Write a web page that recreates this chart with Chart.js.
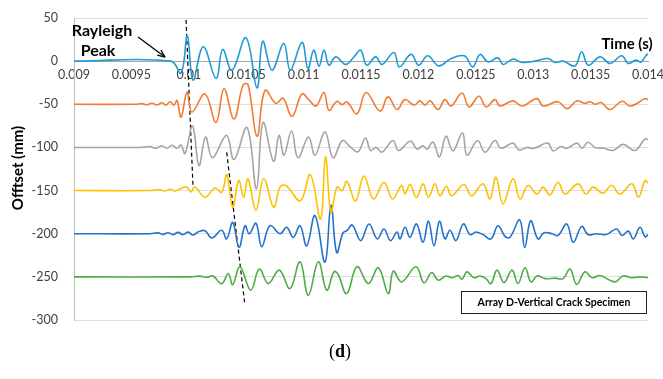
<!DOCTYPE html>
<html>
<head>
<meta charset="utf-8">
<script src="https://cdn.jsdelivr.net/npm/chart.js@4"></script>
<style>
  html, body { margin: 0; padding: 0; background: #fff; }
  #wrap { width: 663px; height: 379px; }
</style>
</head>
<body>
<div id="wrap"><canvas id="waveChart" width="663" height="379"></canvas></div>
<script>
// time (s) and amplitude about each trace's own offset
const offsets = [0, -50, -100, -150, -200, -250];
const colors = ["#1E9CDA", "#F37B2F", "#A5A5A5", "#FFC000", "#2472CC", "#4EAC45"];

const trace0 = [[0.009,0],[0.009845,0],[0.009932,-14],[0.009987,29.5],[0.010037,-22],[0.010126,16.7],[0.010237,-20],[0.010295,13.6],[0.010376,-10.5],[0.010498,27],[0.010594,-31],[0.010644,23],[0.010725,-10.5],[0.010827,20.6],[0.010884,-10.5],[0.010986,21.8],[0.011038,-8.5],[0.011088,12.8],[0.011134,-6],[0.011178,12.8],[0.011221,-4.7],[0.011280,5],[0.011367,-3.8],[0.011439,5],[0.011497,12.8],[0.011550,-4.7],[0.011628,5],[0.011683,-3.8],[0.011787,10],[0.011834,-6.6],[0.011936,7.8],[0.012003,-4.7],[0.012081,6.2],[0.012177,-5.5],[0.012275,2.3],[0.012400,6.2],[0.012473,-6.6],[0.012537,7.8],[0.012606,-0.8],[0.012693,3.8],[0.012737,-3.8],[0.012824,2.3],[0.012902,-1.5],[0.013015,0],[0.013129,3.1],[0.013190,-1.5],[0.013260,0],[0.013364,-5.5],[0.013422,10.8],[0.013480,-4.7],[0.013582,5],[0.013669,-2.7],[0.013771,6.2],[0.013828,-2.7],[0.013895,1.2],[0.013939,-1],[0.013991,8],[0.014,7]];

const trace1 = [[0.009,0],[0.0095314,0],[0.0095923,0.8],[0.0096359,-0.5],[0.0096794,1.2],[0.0097230,-0.8],[0.0097666,1.8],[0.0098014,-1],[0.0098362,3],[0.0098711,-1],[0.0098972,4.5],[0.0099321,-15],[0.0099843,14],[0.0100279,-9],[0.0101411,12],[0.0102369,-21],[0.0103066,18],[0.0103937,-17],[0.0104721,22],[0.0105157,23],[0.0105941,-37],[0.0106638,16],[0.0107596,1],[0.0108206,7],[0.0108990,-14],[0.0109861,12],[0.0110470,5],[0.0111080,-2],[0.0111777,13.6],[0.0112213,-7],[0.0112909,3.5],[0.0113345,-0.4],[0.0113780,2.7],[0.0114652,-11],[0.0115436,13.6],[0.0116655,-8],[0.0117352,8.6],[0.0118136,-6],[0.0118833,5.4],[0.0119617,-1],[0.0120139,4],[0.0120575,-1],[0.0121010,4],[0.0121707,-6],[0.0122317,5.4],[0.0122840,-2],[0.0123798,13],[0.0124408,-3],[0.0125279,9.3],[0.0125888,-3],[0.0126672,5.4],[0.0127108,-2],[0.0128240,4],[0.0129024,-2],[0.0130331,6.6],[0.0130854,-2],[0.0132160,3],[0.0132944,-5],[0.0133815,4],[0.0134512,1],[0.0134948,3],[0.0135383,0],[0.0135906,2],[0.0136690,-6],[0.0137735,3.5],[0.0138432,-2],[0.0139042,1],[0.0139739,6.6],[0.014,5]];

const trace2 = [[0.009,0],[0.0095749,0],[0.0096620,1],[0.0097143,-1],[0.0097666,2],[0.0098101,-1],[0.0098537,2.5],[0.0098972,-1],[0.0099321,3],[0.0099669,-7],[0.0100322,25],[0.0100889,-21],[0.0101455,12],[0.0102065,-12],[0.0103284,14],[0.0103937,-14],[0.0105070,23],[0.0105897,-48],[0.0106463,29],[0.0107378,-16],[0.0107857,14],[0.0108293,-9],[0.0108946,19],[0.0109512,-12],[0.0110427,12],[0.0110993,-9],[0.0111864,18],[0.0112561,-12],[0.0113389,8],[0.0114042,1],[0.0114739,-5],[0.0115392,11],[0.0115828,-3.5],[0.0116307,0],[0.0116829,-5.5],[0.0117787,8],[0.0118267,-3.5],[0.0119312,7.5],[0.0119878,-2],[0.0120401,2],[0.0120749,-2],[0.0121272,6],[0.0121838,-11],[0.0122404,13],[0.0123014,-4],[0.0123841,17],[0.0124233,-9],[0.0125148,8],[0.0125801,-5.5],[0.0126672,8],[0.0127195,-1],[0.0128240,5],[0.0128763,-3],[0.0129460,0],[0.0130070,-1],[0.0131289,5],[0.0131725,-4],[0.0132422,1],[0.0132944,-1],[0.0133815,5],[0.0134251,-1],[0.0134774,6],[0.0135383,0],[0.0136167,-1],[0.0136951,-3.5],[0.0137822,3.5],[0.0138868,-3.5],[0.0139739,10],[0.014,9]];

const trace3 = [[0.009,0],[0.0096620,0],[0.0097491,1],[0.0097927,-0.5],[0.0098362,1.5],[0.0098798,-0.5],[0.0099233,2],[0.0099817,4],[0.0100192,-1.5],[0.0100540,4],[0.0101411,-7.8],[0.0102282,3],[0.0102866,-2],[0.0103301,18.3],[0.0103824,-19.4],[0.0104347,11.7],[0.0104782,-7.8],[0.0105157,13.6],[0.0105854,-23],[0.0106524,13.6],[0.0107395,-19.4],[0.0107944,4],[0.0108467,5.8],[0.0109713,-11.7],[0.0110583,18.3],[0.0111472,-33],[0.0111908,39],[0.0112387,-25],[0.0112909,4],[0.0113345,0],[0.0113780,10.5],[0.0114521,-12],[0.0115261,16.7],[0.0116089,-9.7],[0.0117003,9.7],[0.0117744,-9.7],[0.0118528,5.8],[0.0118833,-4],[0.0119268,7],[0.0119834,-8],[0.0120401,7.8],[0.0120880,-7.8],[0.0121446,7.8],[0.0121882,-6],[0.0122448,5],[0.0122883,-6],[0.0123972,7],[0.0124625,-6],[0.0125627,7.8],[0.0126237,-9.7],[0.0126760,15.5],[0.0127369,-15.5],[0.0128240,13.6],[0.0128850,-9.7],[0.0129547,5.8],[0.0130331,-4],[0.0130854,4],[0.0131463,-5],[0.0132160,9.7],[0.0132770,-4],[0.0133902,7.8],[0.0134599,-4],[0.0135209,4],[0.0136080,-3],[0.0136821,5.8],[0.0137561,-4],[0.0138606,7.8],[0.0139172,-7.8],[0.0139739,11.7],[0.014,9]];

const trace4 = [[0.009,0],[0.0096620,0],[0.0097317,1],[0.0097753,-0.8],[0.0098188,1.2],[0.0098624,-1],[0.0099059,1.5],[0.0099495,-1],[0.0099930,1.8],[0.0100366,-1.5],[0.0100801,2],[0.0101411,3.5],[0.0101995,-5],[0.0102866,4],[0.0103301,-6],[0.0103824,13],[0.0104373,-16],[0.0104895,9.3],[0.0105270,0],[0.0105854,12],[0.0106350,-15],[0.0107073,9.3],[0.0107944,0],[0.0108528,7.4],[0.0109103,-4.3],[0.0109686,9.3],[0.0110270,-14],[0.0110993,21],[0.0111864,-33],[0.0112387,33],[0.0112883,-21.8],[0.0113432,1],[0.0113780,3.5],[0.0114242,10],[0.0114974,-8],[0.0115697,11.3],[0.0116420,-6],[0.0117003,5.4],[0.0117570,-8],[0.0118136,2],[0.0118397,-6],[0.0118833,7.4],[0.0119268,-4],[0.0119834,11.3],[0.0120401,-10],[0.0120880,14.4],[0.0121359,-14],[0.0121838,14.4],[0.0122317,-6],[0.0122753,4],[0.0123275,-8],[0.0123911,11.3],[0.0124495,-1],[0.0125017,2],[0.0125627,-1],[0.0126324,-6],[0.0126933,9.3],[0.0127544,-3],[0.0127979,-4],[0.0128824,16],[0.0129260,-16],[0.0129782,15],[0.0130418,-6],[0.0130941,1],[0.0131638,0],[0.0132160,-2],[0.0132918,11.3],[0.0133493,-10],[0.0134224,8.5],[0.0134774,-1],[0.0135470,0],[0.0136341,-1],[0.0137274,5.4],[0.0137735,-2],[0.0138284,3],[0.0138720,-6],[0.0139303,7.4],[0.0139739,-3.6],[0.014,-1]];

const trace5 = [[0.009,0],[0.0100105,0],[0.0100976,0.8],[0.0101585,-0.5],[0.0102108,1],[0.0102866,-8],[0.0103441,3.9],[0.0103824,-9],[0.0104460,11.7],[0.0105392,-15.5],[0.0106141,9],[0.0106925,-7.8],[0.0107883,7.8],[0.0108815,-13.6],[0.0109686,17.5],[0.0110409,-21.4],[0.0111281,17.5],[0.0112012,-15.5],[0.0112648,6],[0.0112996,3],[0.0113754,-19.4],[0.0114652,11.7],[0.0115636,-7.8],[0.0116507,10.5],[0.0117378,-19.4],[0.0117814,6.6],[0.0118545,-5.8],[0.0119791,11.7],[0.0120488,-7],[0.0121159,5],[0.0121733,-3.9],[0.0122404,1],[0.0122927,-1],[0.0123449,1.5],[0.0123798,-2.7],[0.0124233,5.8],[0.0124843,-1],[0.0125366,1],[0.0125888,-2],[0.0126324,-7.8],[0.0126847,7.8],[0.0127456,-6.6],[0.0128153,7.8],[0.0128676,-7.8],[0.0129286,10.5],[0.0129808,-5.8],[0.0130331,1],[0.0131028,-2],[0.0131899,-1.5],[0.0132596,-2],[0.0133206,9],[0.0133789,-8.7],[0.0134512,5.8],[0.0135122,-1],[0.0135819,1.5],[0.0137125,-5.8],[0.0137822,1],[0.0138606,-1],[0.0139303,0],[0.014,-1]];

const traces = [trace0, trace1, trace2, trace3, trace4, trace5];

// dashed guide lines through the arrivals (time, offset)
const guideLine1 = [[0.009976, 47.8], [0.010037, -146.9]];
const guideLine2 = [[0.0103301, -105.7], [0.0104869, -280.5]];
const arrowFromTo = [[0.0095575, 28], [0.0097927, 4.7]];

const xTicks = [0.009, 0.0095, 0.01, 0.0105, 0.011, 0.0115, 0.012, 0.0125, 0.013, 0.0135, 0.014];
const yTicks = [50, 0, -50, -100, -150, -200, -250, -300];

const datasets = traces.map((pts, i) => ({
    data: pts.map(([t, a]) => ({ x: t, y: offsets[i] + a })),
    borderColor: colors[i],
    borderWidth: 1.6,
    pointRadius: 0,
    tension: 0.4,
    fill: false,
}));
[guideLine1, guideLine2].forEach((g) => {
    datasets.push({
        data: g.map(([t, v]) => ({ x: t, y: v })),
        borderColor: "#000",
        borderWidth: 1.2,
        borderDash: [4, 3],
        pointRadius: 0,
        tension: 0,
        fill: false,
    });
});

const extras = {
    id: "extras",
    afterDraw(chart) {
        const ctx = chart.ctx;
        const xs = chart.scales.x, ys = chart.scales.y;
        ctx.save();
        ctx.fillStyle = "#000";
        ctx.textAlign = "center";
        ctx.textBaseline = "middle";
        ctx.font = "bold 16px Lato";
        ctx.fillText("Rayleigh", 102, 31);
        ctx.fillText("Peak", 98, 51);
        ctx.font = "bold 15px Lato";
        ctx.fillText("Time (s)", 627, 44);

        ctx.save();
        ctx.translate(18, 168);
        ctx.rotate(-Math.PI / 2);
        ctx.font = "bold 15px Lato";
        ctx.fillText("Offtset (mm)", 0, 0);
        ctx.restore();

        // arrow
        const [a, b] = arrowFromTo;
        const x1 = xs.getPixelForValue(a[0]), y1 = ys.getPixelForValue(a[1]);
        const x2 = xs.getPixelForValue(b[0]), y2 = ys.getPixelForValue(b[1]);
        ctx.strokeStyle = "#000";
        ctx.lineWidth = 1.3;
        ctx.beginPath();
        ctx.moveTo(x1, y1);
        ctx.lineTo(x2, y2);
        ctx.stroke();
        const ang = Math.atan2(y2 - y1, x2 - x1);
        ctx.beginPath();
        ctx.moveTo(x2, y2);
        ctx.lineTo(x2 - 8 * Math.cos(ang - 0.4), y2 - 8 * Math.sin(ang - 0.4));
        ctx.moveTo(x2, y2);
        ctx.lineTo(x2 - 8 * Math.cos(ang + 0.4), y2 - 8 * Math.sin(ang + 0.4));
        ctx.stroke();

        // specimen box
        ctx.fillStyle = "#fff";
        ctx.fillRect(461, 291, 186, 22);
        ctx.strokeStyle = "#222";
        ctx.lineWidth = 1;
        ctx.strokeRect(461.5, 291.5, 185, 22);
        ctx.fillStyle = "#000";
        ctx.font = "bold 10.5px Lato";
        ctx.fillText("Array D-Vertical Crack Specimen", 554, 302.5);

        // caption
        ctx.font = "18px 'Liberation Serif'";
        ctx.textAlign = "left";
        const w1 = ctx.measureText("(").width;
        ctx.font = "bold 18px 'Liberation Serif'";
        const w2 = ctx.measureText("d").width;
        ctx.font = "18px 'Liberation Serif'";
        const w3 = ctx.measureText(")").width;
        let cx = 340 - (w1 + w2 + w3) / 2;
        ctx.fillText("(", cx, 352);
        ctx.font = "bold 18px 'Liberation Serif'";
        ctx.fillText("d", cx + w1, 352);
        ctx.font = "18px 'Liberation Serif'";
        ctx.fillText(")", cx + w1 + w2, 352);
        ctx.restore();
    },
};

new Chart(document.getElementById("waveChart"), {
    type: "line",
    data: { datasets: datasets },
    options: {
        responsive: false,
        animation: false,
        devicePixelRatio: 1,
        layout: { padding: { left: 0, right: 15, top: 18, bottom: 59 } },
        plugins: { legend: { display: false }, tooltip: { enabled: false } },
        scales: {
            x: {
                type: "linear",
                min: 0.009,
                max: 0.014,
                position: { y: 0 },
                afterBuildTicks: (s) => { s.ticks = xTicks.map((v) => ({ value: v })); },
                afterFit: (s) => { s.paddingLeft = 0; s.paddingRight = 0; },
                ticks: {
                    callback: (v) => String(v),
                    color: "#404040",
                    font: { family: "Lato", size: 12.5 },
                    padding: 6,
                    maxRotation: 0,
                    autoSkip: false,
                },
                grid: { display: false, drawTicks: false },
                border: { color: "#a6a6a6", width: 1 },
            },
            y: {
                min: -300,
                max: 50,
                afterBuildTicks: (s) => { s.ticks = yTicks.map((v) => ({ value: v })); },
                afterFit: (s) => { s.width = 74; s.paddingTop = 0; s.paddingBottom = 0; },
                ticks: {
                    color: "#404040",
                    font: { family: "Lato", size: 12.5 },
                    padding: 16,
                },
                grid: { color: "#dedede", drawTicks: false },
                border: { color: "#bfbfbf", width: 1 },
            },
        },
    },
    plugins: [extras],
});
</script>
</body>
</html>
